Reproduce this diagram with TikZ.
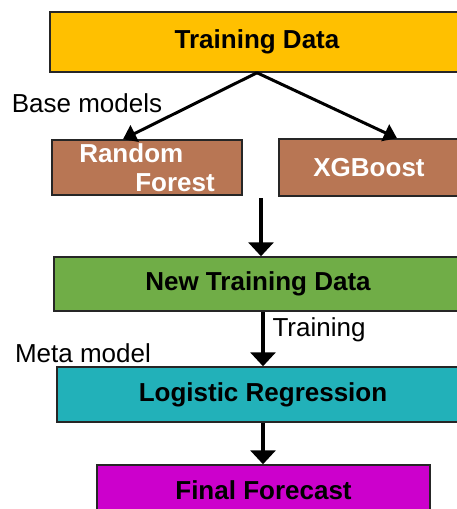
\documentclass[tikz,border=0pt]{standalone}
\usepackage{fontspec}
\setmainfont{Liberation Sans}
\definecolor{golden}{RGB}{255, 192, 0}
\definecolor{clay}{RGB}{184, 118, 84}
\definecolor{leaf}{RGB}{112, 173, 71}
\definecolor{teal}{RGB}{34, 177, 185}
\definecolor{magenta}{RGB}{204, 0, 204}
\usetikzlibrary{arrows.meta, positioning}

\begin{document}
\begin{tikzpicture}[x=1pt, y=-1pt,
  block/.style={draw=black!85, line width=1.5pt, inner sep=0pt, font=\fontsize{26}{29}\selectfont\bfseries, align=center},
  lbl/.style={font=\fontsize{26}{29}\selectfont},
  flow/.style={-{Triangle[width=25pt,length=14pt]}, line width=4.5pt},
  fork/.style={-{Triangle[width=18pt,length=13pt]}, line width=3pt}]
\useasboundingbox (0,0) rectangle (457,509);
\node[block, fill=golden, minimum width=414pt, minimum height=60pt] (td) at (257,42) {Training Data};
\node[block, fill=clay, text=white, minimum width=190pt, minimum height=55pt, align=left] (rf) at (147,167.5) {Random\\\hspace*{56pt}Forest};
\node[block, fill=clay, text=white, minimum width=180pt, minimum height=57pt] (xgb) at (369,167.5) {XGBoost};
\node[block, fill=leaf, minimum width=408pt, minimum height=54pt] (ntd) at (258,284) {New Training Data};
\node[block, fill=teal, minimum width=412pt, minimum height=55pt] (lr) at (263,394.5) {Logistic Regression};
\node[block, fill=magenta, minimum width=333pt, minimum height=50pt] (ff) at (263.5,490) {Final Forecast};
\coordinate (merge) at (261,198);

\draw[fork] (td.south) -- ([xshift=-24pt]rf.north);
\draw[fork] (td.south) -- ([xshift=28pt]xgb.north);
\draw[flow] (merge) -- (merge |- ntd.north);
\draw[flow] (lr.north |- ntd.south) -- (lr.north);
\draw[flow] (lr.south) -- (lr.south |- ff.north);

\node[lbl] (base) at (87,103) {Base models};
\node[lbl, right] (train) at (269,330) {Training};
\node[lbl] (meta) at (83,353) {Meta model};
\end{tikzpicture}
\end{document}
